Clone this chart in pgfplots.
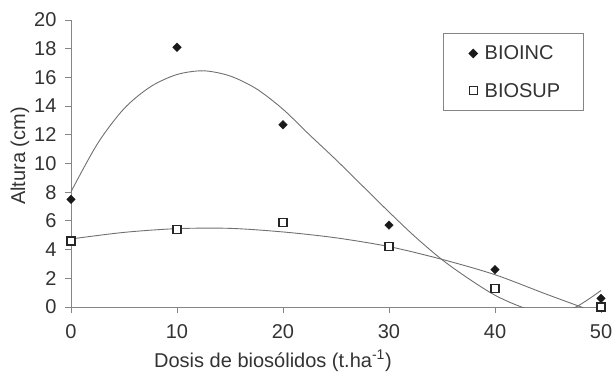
\documentclass[border=0pt]{standalone}
\usepackage{pgfplots}
\pgfplotsset{compat=1.18}
\usepackage{fontspec}
\setmainfont{Liberation Sans}
\definecolor{txt}{HTML}{333333}
\definecolor{axisgray}{HTML}{858585}
\definecolor{curvegray}{HTML}{707070}
\pgfplotsset{markleg/.style={legend image code/.code={\path (-6pt,0pt) (6pt,0pt); \draw[##1] plot coordinates {(0pt,0pt)};}}}
\begin{document}
\begin{tikzpicture}
\useasboundingbox (-71pt,-65pt) rectangle (542pt,307pt);
\begin{axis}[
  at={(0pt,0pt)}, anchor=south west,
  scale only axis, width=530pt, height=287pt,
  xmin=0, xmax=50, ymin=0, ymax=20,
  xtick={0,10,20,30,40,50}, ytick={0,2,...,20},
  axis lines*=left,
  axis line style={draw=axisgray, line width=0.9pt},
  tick style={draw=axisgray, line width=0.9pt},
  tick align=outside, major tick length=6pt,
  /pgf/number format/assume math mode=true,
  ticklabel style={font=\fontsize{20}{24}\selectfont, text=txt},
  xticklabel style={yshift=-8pt},
  yticklabel style={xshift=-5pt},
  label style={font=\fontsize{20}{24}\selectfont, text=txt},
  xlabel={Dosis de biosólidos (t.ha\textsuperscript{-1})},
  ylabel={Altura (cm)},
  xlabel style={at={(axis description cs:0.381,-0.188)}, anchor=center},
  ylabel style={at={(axis description cs:-0.0962,0.526)}, anchor=center},
  legend style={at={(axis description cs:0.7025,0.9537)}, anchor=north west,
    draw=axisgray, line width=0.9pt, fill=white,
    font=\fontsize{20}{24}\selectfont, text=txt,
    inner xsep=23pt, inner ysep=12pt, row sep=22pt, column sep=5pt,
    nodes={inner sep=0pt}, cells={anchor=west}},
]
% trend lines
\addplot[curvegray, line width=0.9pt, smooth, forget plot] coordinates {
(0,8.03) (2.5,11.38) (5,13.82) (7.5,15.35) (10,16.2) (12.5,16.46) (15,16.1)
(17.5,15.2) (20,13.78) (22.5,12.0) (25,10.26) (27.5,8.44) (30,6.62) (32.5,4.87)
(35,3.3) (37.5,1.98) (40,0.82) (42.5,0) (45,-0.5) (47.5,-0.05) (50,1.15)};
\addplot[curvegray, line width=0.9pt, smooth, forget plot] coordinates {
(0,4.74) (5,5.2) (10,5.46) (15,5.48) (20,5.23) (25,4.82) (30,4.21)
(35,3.32) (40,2.25) (45,0.85) (50,-0.5)};
% data
\addplot[only marks, mark=square*, mark size=3pt, mark options={rotate=45, fill=black!90, draw=black!90}, markleg]
  coordinates {(0,7.5) (10,18.1) (20,12.7) (30,5.7) (40,2.6) (50,0.6)};
\addlegendentry{BIOINC}
\addplot[only marks, mark=square*, mark size=4pt, mark options={fill=white, draw=black!85, line width=1.1pt}, markleg]
  coordinates {(0,4.6) (10,5.4) (20,5.9) (30,4.2) (40,1.3) (50,0)};
\addlegendentry{BIOSUP}
\end{axis}
\end{tikzpicture}
\end{document}
